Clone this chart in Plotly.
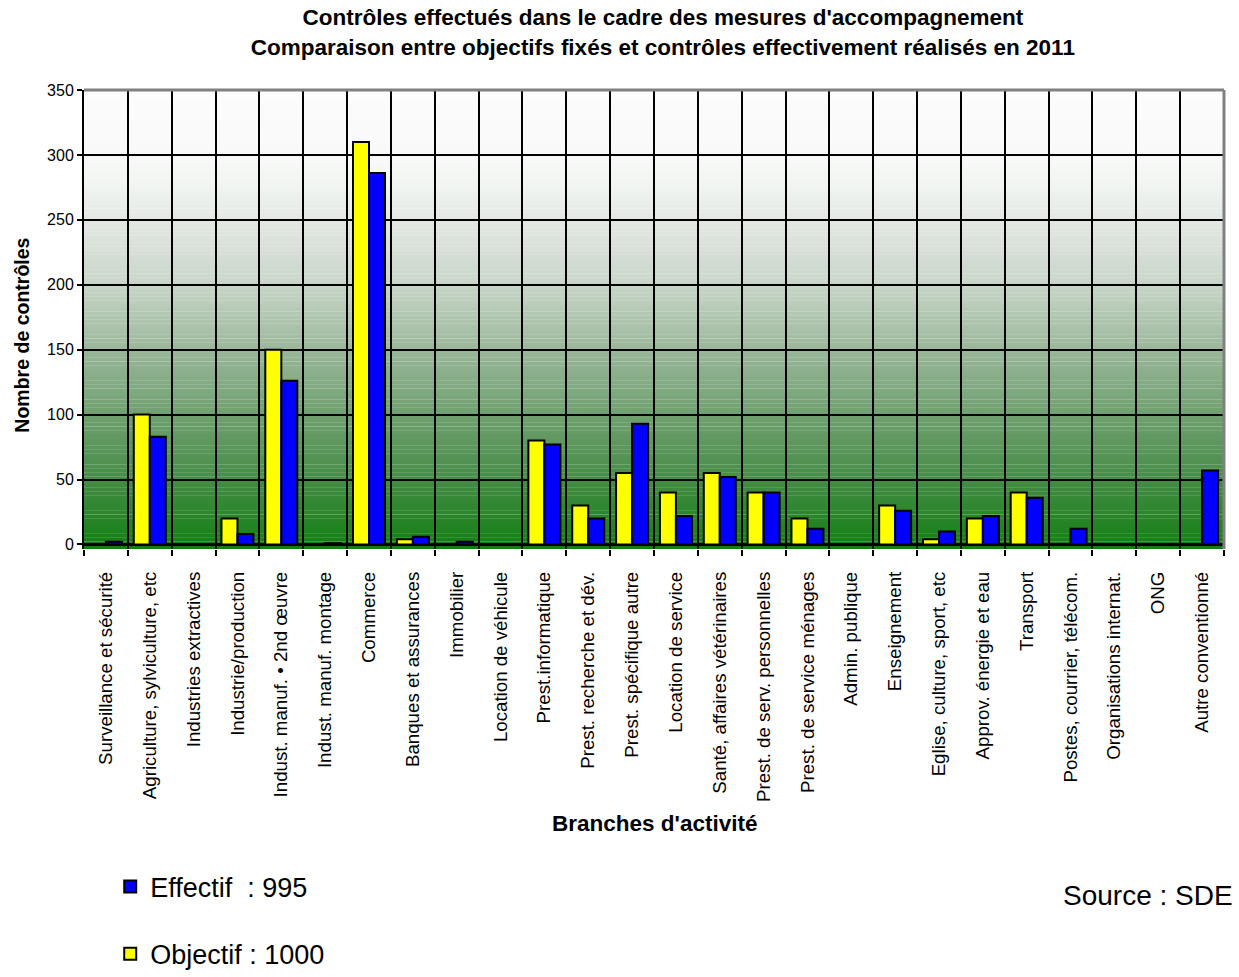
import plotly.graph_objects as go

categories = [
    "Surveillance et sécurité", "Agriculture, sylviculture, etc", "Industries extractives",
    "Industrie/production", "Indust. manuf. • 2nd œuvre", "Indust. manuf. montage",
    "Commerce", "Banques et assurances", "Immobilier", "Location de véhicule",
    "Prest.informatique", "Prest. recherche et dév.", "Prest. spécifique autre",
    "Location de service", "Santé, affaires vétérinaires", "Prest. de serv. personnelles",
    "Prest. de service ménages", "Admin. publique", "Enseignement",
    "Eglise, culture, sport, etc", "Approv. énergie et eau", "Transport",
    "Postes, courrier, télécom.", "Organisations internat.", "ONG", "Autre conventionné",
]
objectif = [0, 100, 0, 20, 150, 0, 310, 4, 0, 0, 80, 30, 55, 40, 55, 40, 20, 0, 30, 4, 20, 40, 0, 0, 0, 0]
effectif = [2, 83, 0, 8, 126, 1, 286, 6, 2, 0, 77, 20, 93, 22, 52, 40, 12, 0, 26, 10, 22, 36, 12, 0, 0, 57]
y_ticks = [0, 50, 100, 150, 200, 250, 300, 350]

title_lines = ["Contrôles effectués dans le cadre des mesures d'accompagnement",
               "Comparaison entre objectifs fixés et contrôles effectivement réalisés en 2011"]

FONT = "Liberation Sans, Arial, sans-serif"
x_pos = list(range(len(categories)))

fig = go.Figure()
fig.add_trace(go.Bar(
    x=x_pos, y=objectif, name="Objectif : 1000", legendgroup="o",
    marker=dict(color="#ffff00", line=dict(color="black", width=2)),
    legendrank=2,
))
fig.add_trace(go.Bar(
    x=x_pos, y=effectif, name="Effectif  : 995", legendgroup="e",
    marker=dict(color="#0000ff", line=dict(color="black", width=2)),
    legendrank=1,
))

# gradient background (white at top -> green at bottom)
stops = [(-3.5, (15, 125, 15)), (0, (20, 128, 20)), (50, (70, 140, 70)), (100, (112, 160, 112)),
         (150, (154, 183, 154)), (200, (200, 213, 200)), (250, (228, 232, 228)),
         (275, (240, 244, 240)), (300, (248, 249, 248)), (350, (252, 252, 252))]


def col_at(v):
    for (a, ca), (b, cb) in zip(stops[:-1], stops[1:]):
        if a <= v <= b:
            t = (v - a) / (b - a)
            return "rgb(%d,%d,%d)" % tuple(round(ca[i] + (cb[i] - ca[i]) * t) for i in range(3))
    return "rgb(252,252,252)"


shapes = []
n = 120
lo, hi = -3.5, 350
step = (hi - lo) / n
for k in range(n):
    v0 = lo + k * step
    v1 = v0 + step * 1.05
    shapes.append(dict(type="rect", xref="x domain", yref="y", x0=0, x1=1, y0=v0, y1=min(v1, hi),
                       fillcolor=col_at(v0 + step / 2), line=dict(width=0), layer="below"))
# top and right frame
shapes.append(dict(type="line", xref="x domain", yref="y domain", x0=0, x1=1, y0=1, y1=1,
                   line=dict(color="#808080", width=3), layer="above"))
shapes.append(dict(type="line", xref="x domain", yref="y domain", x0=1, x1=1, y0=0, y1=1,
                   line=dict(color="#808080", width=3), layer="above"))

fig.update_layout(
    width=1239, height=977,
    margin=dict(l=84, r=15, t=90, b=428, autoexpand=False),
    paper_bgcolor="white", plot_bgcolor="white",
    font=dict(family=FONT, color="black"),
    title=dict(text="<br>".join(title_lines), x=0.535, xanchor="center", y=0.974, yanchor="middle",
               yref="container", font=dict(family=FONT, size=22.5, color="black", weight="bold")),
    barmode="group", bargap=0.27, bargroupgap=0,
    shapes=shapes,
    showlegend=True,
    legend=dict(x=0.023, xanchor="left", y=-0.683, yanchor="top", font=dict(size=27, family=FONT),
                tracegroupgap=29, bgcolor="rgba(0,0,0,0)", itemclick=False),
    annotations=[
        dict(text="<b>Branches d'activité</b>", xref="paper", yref="paper", x=0.5, y=-0.597,
             xanchor="center", yanchor="middle", showarrow=False, font=dict(size=22.5, family=FONT)),
        dict(text="<b>Nombre de contrôles</b>", xref="paper", yref="paper", x=-0.0544, y=0.467,
             xanchor="center", yanchor="middle", textangle=-90, showarrow=False,
             font=dict(size=19.5, family=FONT)),
        dict(text="Source : SDE", xref="paper", yref="paper", x=1.0096, y=-0.754,
             xanchor="right", yanchor="middle", showarrow=False, font=dict(size=28, family=FONT)),
    ],
)
fig.update_xaxes(
    range=[-0.5, len(categories) - 0.5],
    tickmode="array", tickvals=x_pos, ticktext=categories, tickangle=-90,
    tickfont=dict(size=18.7, family=FONT), ticks="", ticklabelstandoff=18,
    showgrid=False, zeroline=False, showline=False,
    minor=dict(tickmode="linear", tick0=-0.5, dtick=1, showgrid=True, gridcolor="black",
               gridwidth=2, ticks="outside", ticklen=6, tickwidth=2, tickcolor="black"),
)
fig.update_yaxes(
    range=[-3.5, 350], tickmode="array", tickvals=y_ticks,
    tickfont=dict(size=16, family=FONT), ticks="outside", ticklen=5, tickwidth=2, tickcolor="black",
    showgrid=True, gridcolor="black", gridwidth=2,
    zeroline=True, zerolinecolor="black", zerolinewidth=3,
    showline=True, linecolor="black", linewidth=2,
)

fig.write_html("out.html")
